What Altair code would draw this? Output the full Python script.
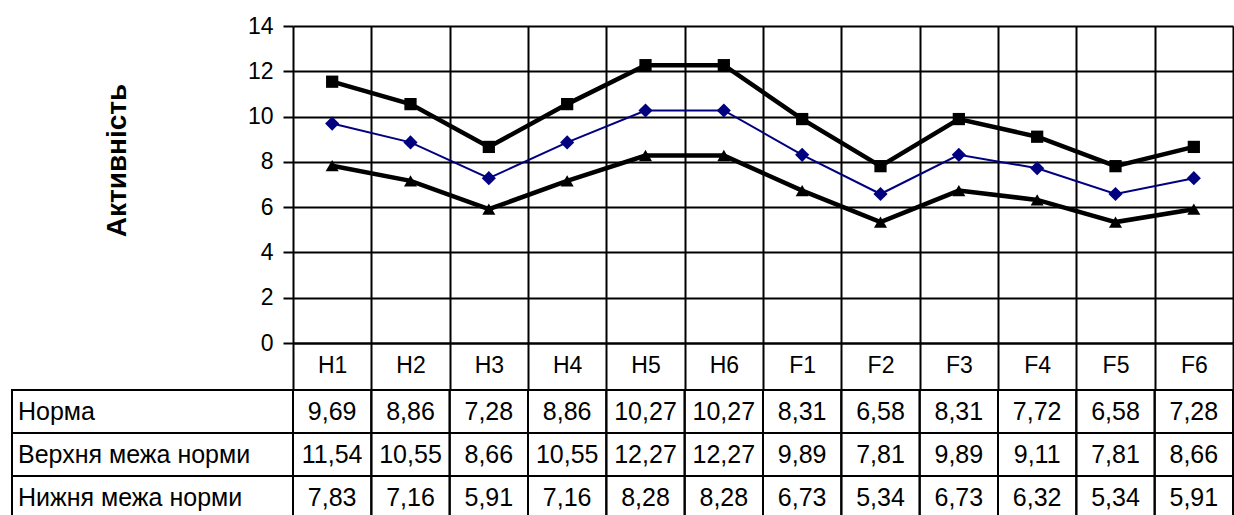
import altair as alt
import pandas as pd

categories = ["H1", "H2", "H3", "H4", "H5", "H6", "F1", "F2", "F3", "F4", "F5", "F6"]
norma = [9.69, 8.86, 7.28, 8.86, 10.27, 10.27, 8.31, 6.58, 8.31, 7.72, 6.58, 7.28]
upper = [11.54, 10.55, 8.66, 10.55, 12.27, 12.27, 9.89, 7.81, 9.89, 9.11, 7.81, 8.66]
lower = [7.83, 7.16, 5.91, 7.16, 8.28, 8.28, 6.73, 5.34, 6.73, 6.32, 5.34, 5.91]
series_names = ["Норма", "Верхня межа норми", "Нижня межа норми"]
y_ticks = [0, 2, 4, 6, 8, 10, 12, 14]
y_title = "Активність"

rows = []
for name, vals in zip(series_names, [norma, upper, lower]):
    for c, v in zip(categories, vals):
        rows.append({"cat": c, "series": name, "value": v,
                     "label": f"{v:.2f}".replace(".", ",")})
df = pd.DataFrame(rows)
labels_df = pd.DataFrame({"series": series_names})

FONT = "Liberation Sans"
W, H = 940, 317

xscale = alt.Scale(type="band", domain=categories, paddingInner=0, paddingOuter=0)
xaxis = alt.Axis(title=None, tickBand="extent", tickSize=47, tickWidth=2, tickColor="black",
                 grid=True, gridColor="black", gridWidth=2, gridOpacity=1,
                 domainColor="black", domainWidth=2,
                 labelFont=FONT, labelFontSize=23, labelColor="black",
                 labelPadding=-25, labelBaseline="middle", labelAngle=0)
xenc = alt.X("cat:N", sort=categories, scale=xscale, axis=xaxis)

yaxis = alt.Axis(values=y_ticks, grid=True, gridColor="black", gridWidth=2, gridOpacity=1,
                 tickSize=10, tickWidth=2, tickColor="black", domain=False,
                 labelFont=FONT, labelFontSize=23, labelColor="black", labelPadding=10,
                 title=y_title, titleFont=FONT, titleFontSize=28, titleFontWeight="bold",
                 titleColor="black", titleX=-176, titleY=134, titleAngle=270,
                 titleBaseline="middle", titleAlign="center")
yscale = alt.Scale(domain=[0, 14], nice=False, zero=True)

color = alt.Color("series:N", scale=alt.Scale(domain=series_names,
                  range=["#000080", "#000000", "#000000"]), legend=None)

line = alt.Chart(df).mark_line().encode(
    x=xenc,
    y=alt.Y("value:Q", scale=yscale, axis=yaxis),
    color=color,
    strokeWidth=alt.StrokeWidth("series:N", scale=alt.Scale(type="ordinal", domain=series_names,
                                range=[2, 4.5, 4.5]), legend=None),
)

points = alt.Chart(df).mark_point(filled=True, opacity=1).encode(
    x=xenc,
    y=alt.Y("value:Q", scale=yscale, axis=None),
    color=color,
    shape=alt.Shape("series:N", scale=alt.Scale(domain=series_names,
                    range=["diamond", "square", "triangle-up"]), legend=None),
    size=alt.Size("series:N", scale=alt.Scale(type="ordinal", domain=series_names,
                  range=[200, 150, 170]), legend=None),
)

rowscale = alt.Scale(type="band", domain=series_names, range=[364, 493], paddingInner=0, paddingOuter=0)
yrow = alt.Y("series:N", scale=rowscale, axis=None)

cells = alt.Chart(df).mark_rect(fill="white", fillOpacity=0, stroke="black", strokeWidth=2).encode(
    x=xenc, y=yrow)

cell_text = alt.Chart(df).mark_text(font=FONT, fontSize=25, color="black",
                                    align="center", baseline="middle").encode(
    x=xenc, y=yrow, text="label:N")

label_cells = alt.Chart(labels_df).mark_rect(fill="white", fillOpacity=0, stroke="black", strokeWidth=2).encode(
    x=alt.value(-281), x2=alt.value(0), y=yrow)

label_text = alt.Chart(labels_df).mark_text(font=FONT, fontSize=25, color="black",
                                            align="left", baseline="middle").encode(
    x=alt.value(-275), y=yrow, text="series:N")

chart = alt.layer(line, points, cells, cell_text, label_cells, label_text).resolve_scale(
    y="independent"
).properties(
    width=W, height=H,
    autosize=alt.AutoSizeParams(type="none"),
    padding={"left": 293, "top": 26, "right": 1, "bottom": 172},
    background="white",
).configure_view(strokeWidth=0)

chart.save("out.html", embed_options={"renderer": "svg", "actions": False})
